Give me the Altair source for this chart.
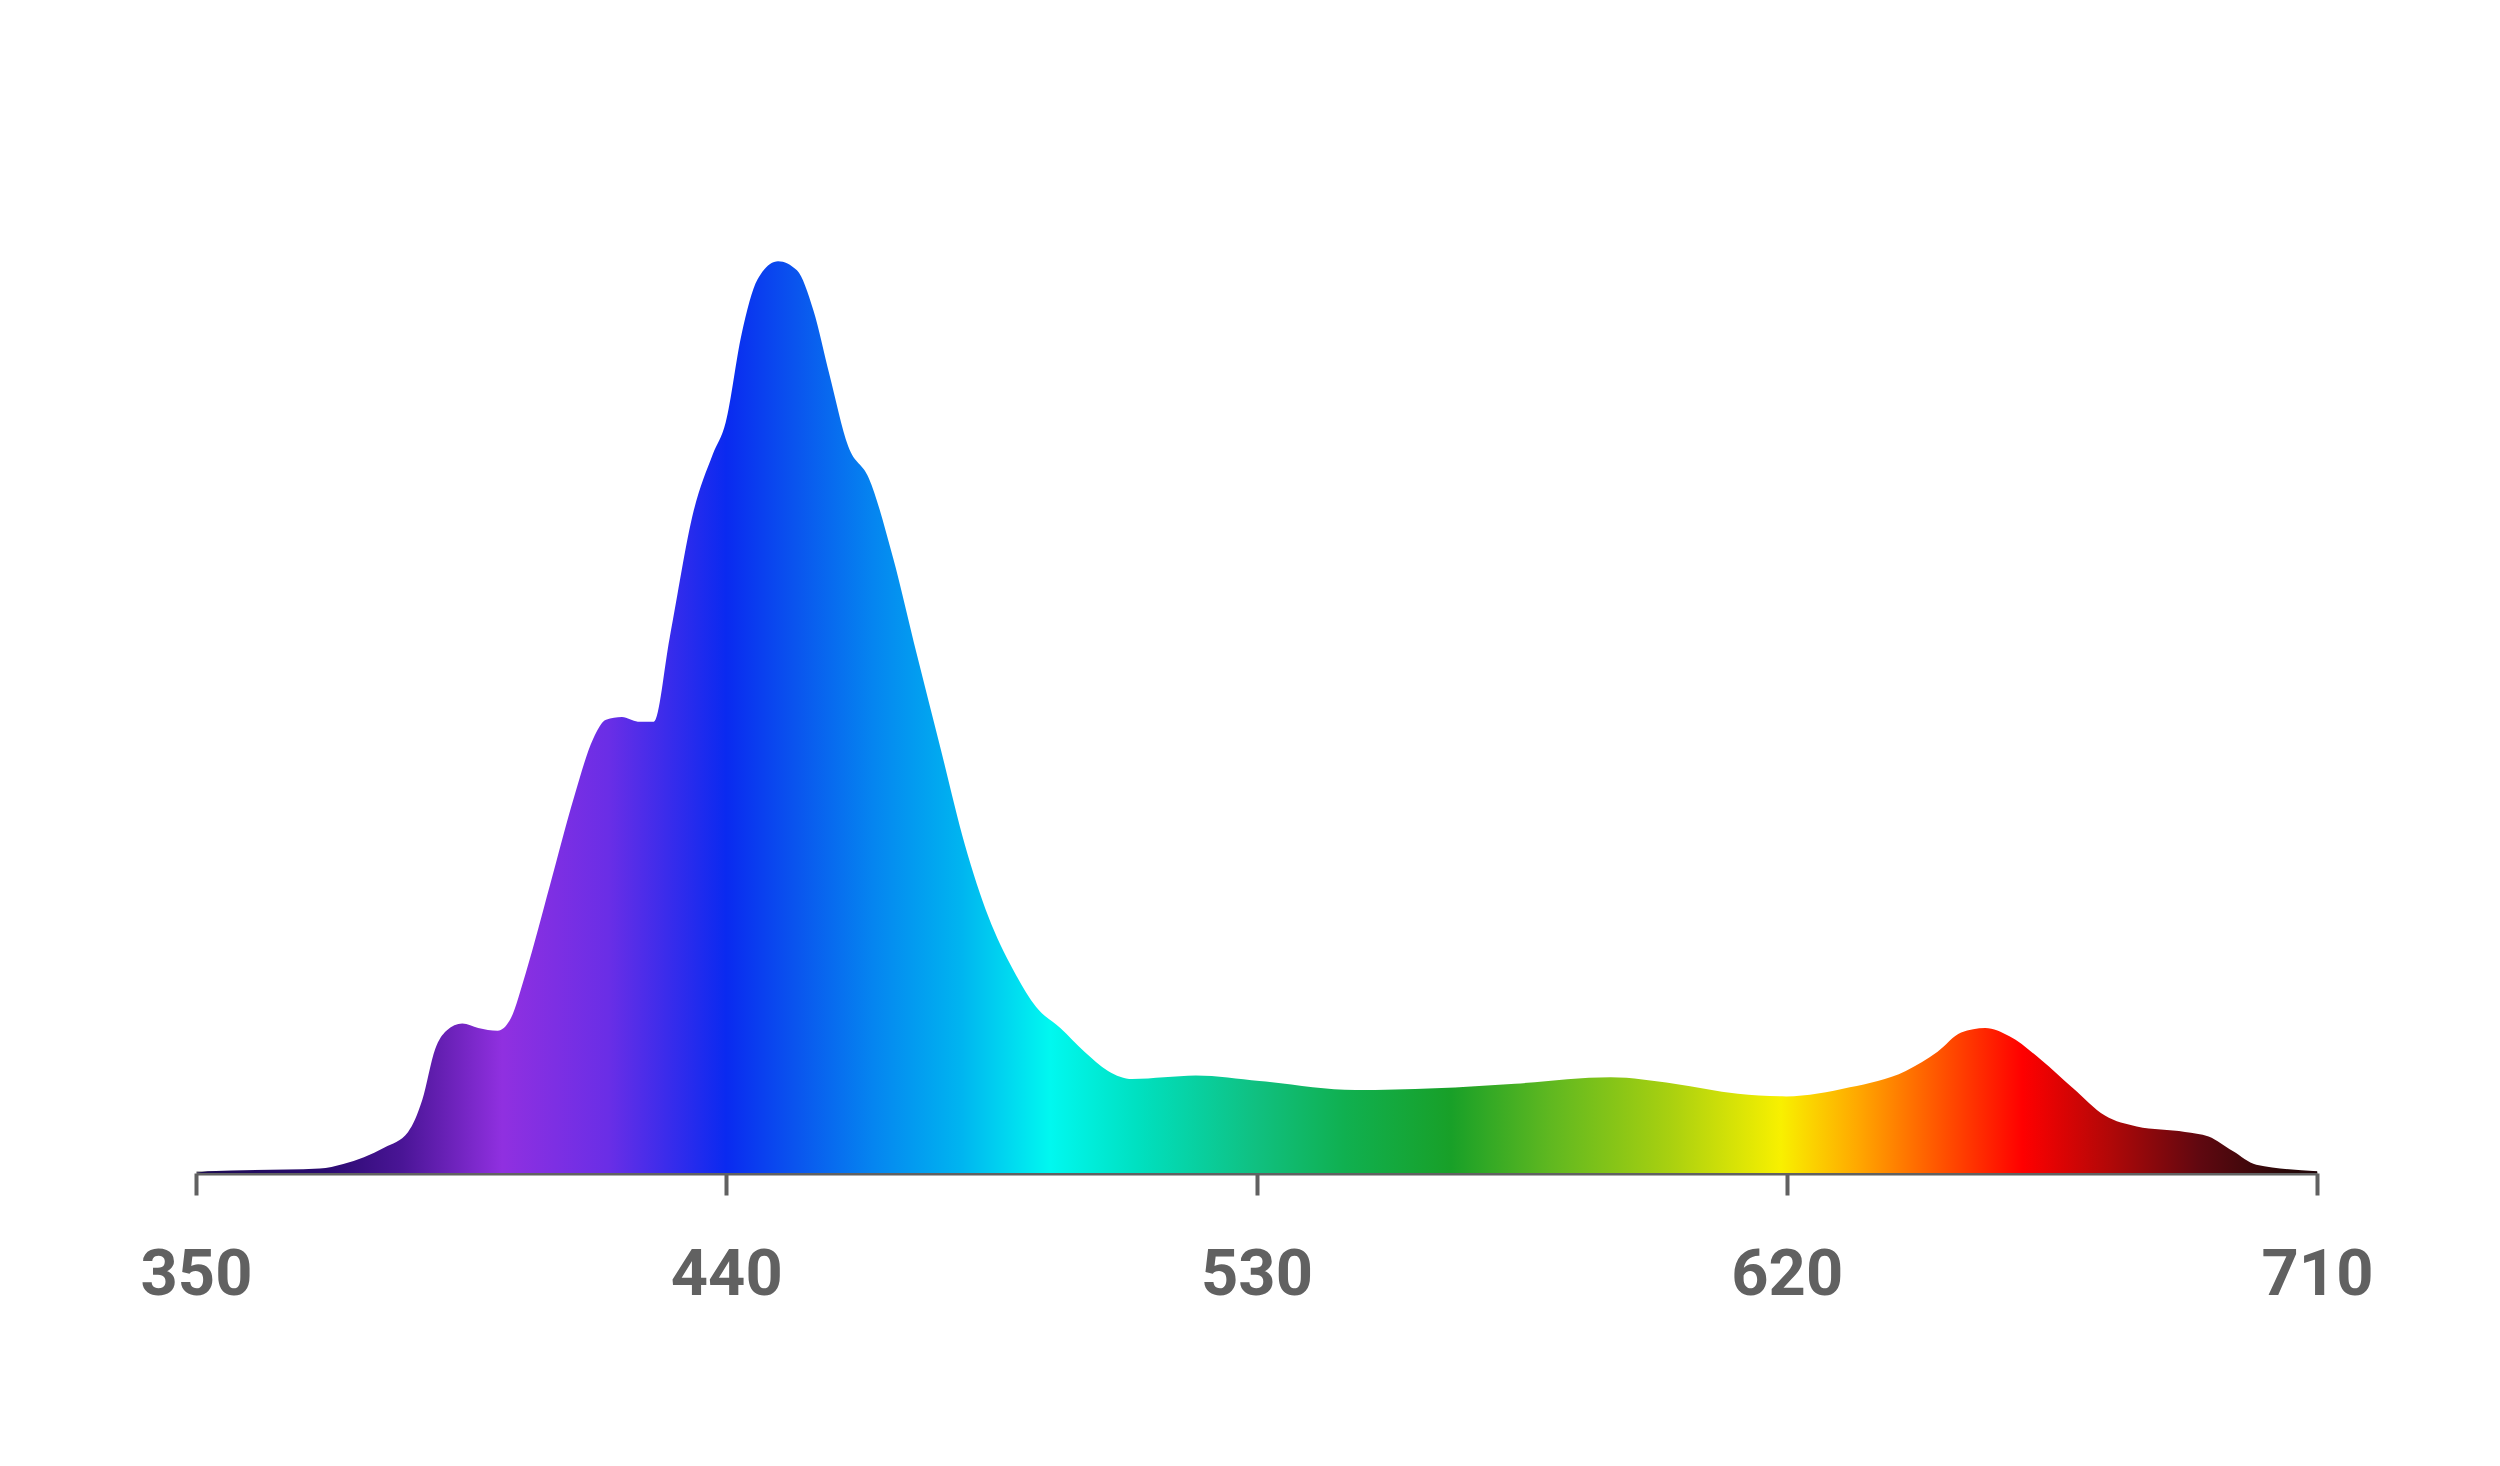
import altair as alt
import pandas as pd

wavelength = [350, 352, 371, 375, 382, 386, 388.4, 390.6, 392.5, 395.2, 397.9, 401.2, 403.3, 406, 410.1,
              414.2, 417.4, 419.6, 422.3, 425, 427.7, 430.4, 434.5, 437.7, 439.9, 442.6, 445.3, 448.8,
              452, 454.8, 457.5, 460.7, 464.2, 468.3, 472.3, 476.4, 480.5, 484.5, 488.6, 492.6, 496.7,
              500.8, 504.8, 508.9, 514.3, 519.7, 530.5, 546.8, 560.3, 573.9, 590.1, 600.9, 611.7, 619.9,
              630.7, 640.2, 645.6, 649.6, 653.7, 657.8, 663.2, 668.6, 674, 679.4, 687.6, 691.6, 695.7,
              699.7, 710]
intensity = [0, 0.2, 0.5, 1, 2.8, 4.5, 8, 13.6, 15.6, 16.4, 15.9, 15.6, 16.8, 22, 31.6,
             41.3, 47.6, 49.7, 50, 49.5, 49.5, 58.7, 72.7, 78.8, 82.3, 92, 98, 100,
             99, 94.6, 87.6, 79.7, 76.2, 67.5, 57, 46.5, 36, 28.1, 22.4, 18.2, 15.9,
             13.3, 11.2, 10.3, 10.5, 10.7, 10.1, 9.1, 9.3, 9.8, 10.5, 9.8, 8.7, 8.4,
             9.4, 11.2, 13.3, 15.4, 15.9, 15, 12.4, 9.3, 6.3, 5.1, 4.5, 4, 2.4,
             0.9, 0.2]

stop_nm = [350, 372, 385, 402, 420, 440, 452, 465, 480, 495, 510, 530, 545, 563, 580, 600,
           619, 632, 645, 660, 675, 690, 705, 710]
stop_color = ["#1a0a50", "#2a0a70", "#4a1596", "#9030e0", "#6a2ee6", "#0a2af0", "#0a55ee",
              "#0585f0", "#00b5f0", "#00f8f0", "#00e0c0", "#10c080", "#10b050", "#18a028",
              "#60b820", "#a8d010", "#f8f000", "#ffa800", "#ff5a00", "#ff0000", "#b00808",
              "#600810", "#280808", "#200408"]

tick_values = [350, 440, 530, 620, 710]

df = pd.DataFrame({"nm": wavelength, "v": intensity})

x0, x1 = tick_values[0], tick_values[-1]
stops = [alt.GradientStop(color=c, offset=(n - x0) / (x1 - x0)) for n, c in zip(stop_nm, stop_color)]

grad = alt.Gradient(gradient="linear", stops=stops, x1=0, x2=1, y1=0, y2=0)

chart = alt.Chart(df).mark_area(interpolate="monotone", color=grad).encode(
    x=alt.X("nm:Q", scale=alt.Scale(domain=[x0, x1], nice=False, zero=False),
            axis=alt.Axis(values=tick_values, title=None, grid=False, domainColor="#616161",
                          domainWidth=4, tickColor="#616161", tickWidth=4, tickSize=22,
                          labelFont="Roboto", labelFontSize=65, labelFontWeight="bold",
                          labelColor="#616161", labelPadding=48, labelFlush=False)),
    y=alt.Y("v:Q", scale=alt.Scale(domain=[0, 110], nice=False), axis=None),
).properties(
    width=2121, height=1003,
    autosize=alt.AutoSizeParams(type="none"),
    padding={"left": 188, "top": 162, "right": 175, "bottom": 285},
).configure_view(stroke=None)

chart.save("out.html", embed_options={"renderer": "svg", "actions": False})
